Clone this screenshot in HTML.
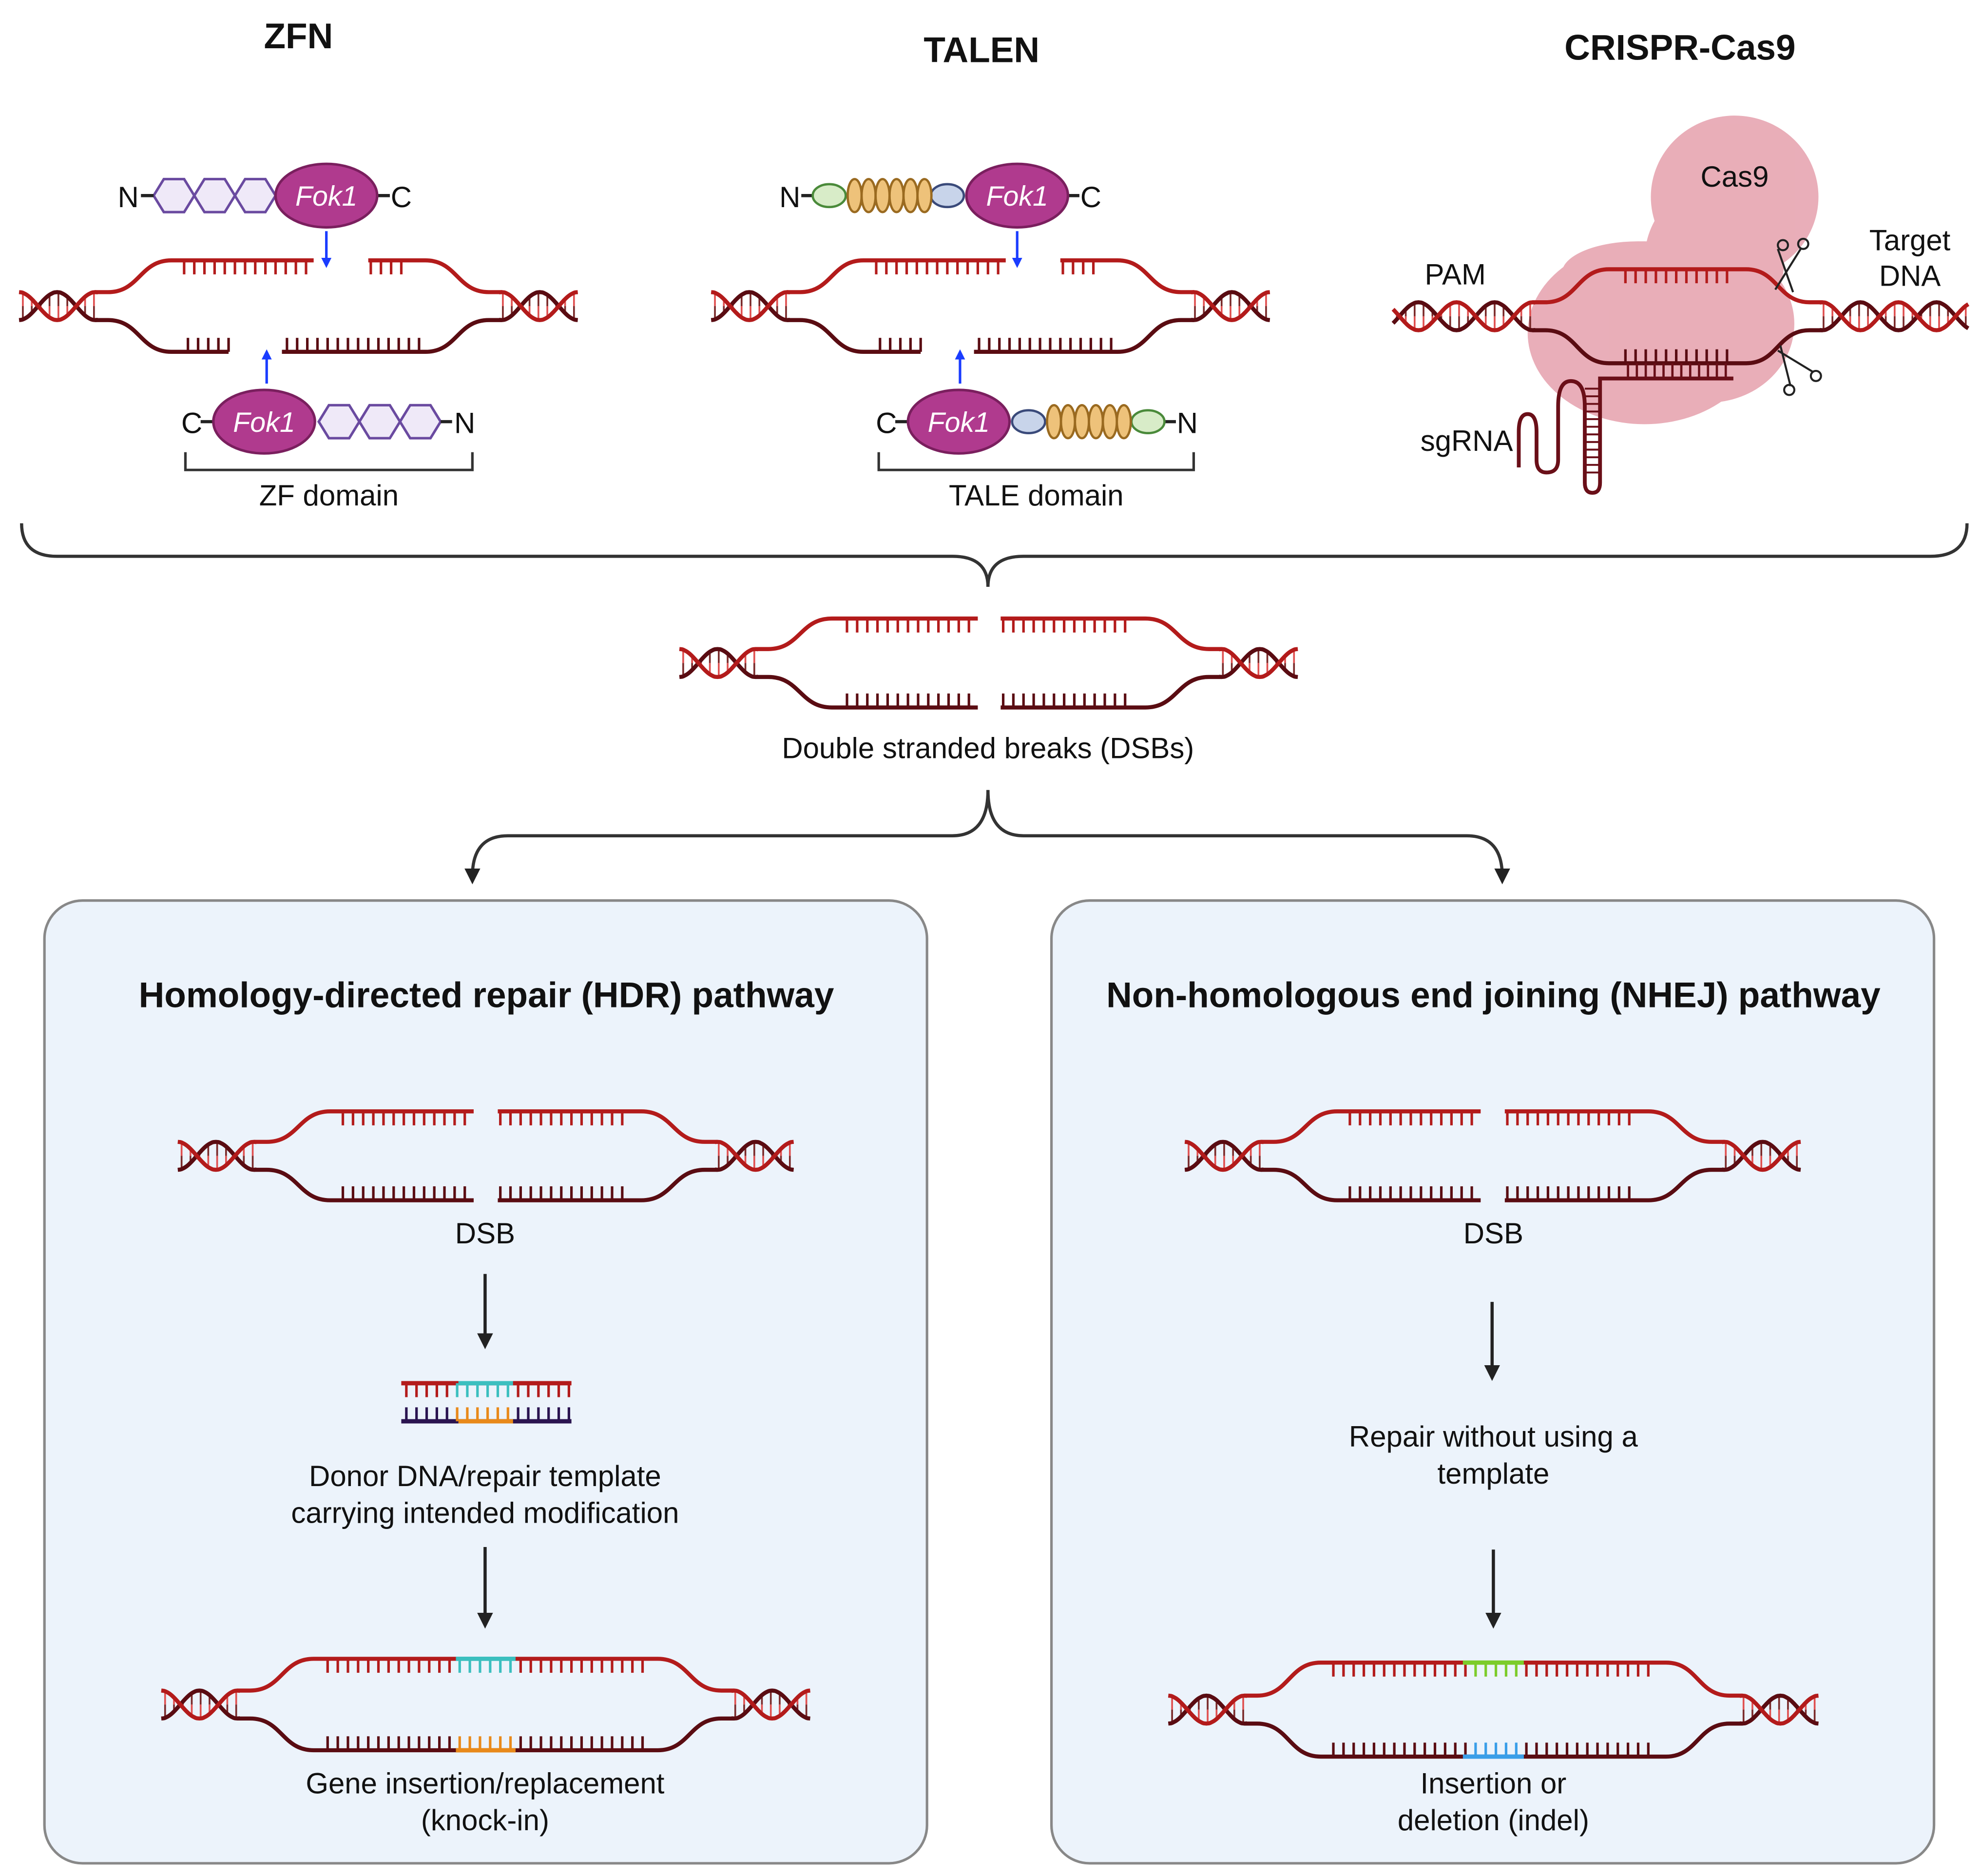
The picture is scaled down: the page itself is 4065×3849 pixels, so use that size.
<!DOCTYPE html>
<html><head><meta charset="utf-8">
<style>
html,body{margin:0;padding:0;background:#fff;}
svg{display:block;}
text{font-family:"Liberation Sans",sans-serif;fill:#111;}
.t{font-size:23px;text-anchor:middle;}
.b{font-size:28px;font-weight:bold;text-anchor:middle;}
.f{font-size:22px;font-style:italic;fill:#fff;text-anchor:middle;}
</style></head>
<body>
<svg id="s" width="4065" height="3849" viewBox="0 0 1560 1477" preserveAspectRatio="none" xmlns="http://www.w3.org/2000/svg">
<defs>
<marker id="ah" viewBox="0 0 10 10" refX="5" refY="5" markerWidth="5" markerHeight="5" orient="auto"><path d="M0,0 L10,5 L0,10 z" fill="#222"/></marker>
<marker id="bh" viewBox="0 0 10 10" refX="5" refY="5" markerWidth="4" markerHeight="4" orient="auto"><path d="M0,0 L10,5 L0,10 z" fill="#1a3cff"/></marker>
</defs>
<rect x="35" y="709" width="695" height="758" rx="30" fill="#ecf3fb" stroke="#888" stroke-width="2"/>
<rect x="828" y="709" width="695" height="758" rx="30" fill="#ecf3fb" stroke="#888" stroke-width="2"/>
<path d="M17,412 Q17,438 45,438 L750,438 Q778,438 778,462 Q778,438 806,438 L1520,438 Q1549,438 1549,412" fill="none" stroke="#333" stroke-width="2.5"/>
<path d="M778,622 Q778,658 750,658 L400,658 Q372,658 372,690" fill="none" stroke="#333" stroke-width="2.5" marker-end="url(#ah)"/>
<path d="M778,622 Q778,658 806,658 L1155,658 Q1183,658 1183,690" fill="none" stroke="#333" stroke-width="2.5" marker-end="url(#ah)"/>
<g stroke="#222" stroke-width="2.5" marker-end="url(#ah)">
<line x1="382" y1="1003" x2="382" y2="1056"/>
<line x1="382" y1="1218" x2="382" y2="1276"/>
<line x1="1175" y1="1025" x2="1175" y2="1081"/>
<line x1="1176" y1="1220" x2="1176" y2="1276"/>
</g>
<g fill="#e8aab5" opacity="0.95">
<ellipse cx="1366" cy="155" rx="66" ry="64"/>
<ellipse cx="1350" cy="205" rx="55" ry="60"/>
<ellipse cx="1295" cy="262" rx="92" ry="72"/>
<ellipse cx="1345" cy="255" rx="68" ry="62"/>
<ellipse cx="1290" cy="215" rx="60" ry="25"/>
</g>
<g id="dna"></g>
<g fill="none" stroke="#6a0f18" stroke-width="3">
<path d="M1365,298 H1260 V380 Q1260,388 1254,388 Q1248,388 1248,380 V320 Q1248,300 1237,300 Q1227,300 1227,320 V362 Q1227,372 1218,372 Q1210,372 1210,362 V340 Q1210,326 1203,326 Q1196,326 1196,340 V368"/>
</g>
<g id="stem" stroke="#6a0f18" stroke-width="1.5"></g>
<g fill="none" stroke="#222" stroke-width="1.6">
<line x1="1398" y1="228" x2="1418" y2="196"/><line x1="1400" y1="196" x2="1412" y2="230"/>
<circle cx="1420" cy="192" r="4"/><circle cx="1404" cy="193" r="4"/>
<line x1="1400" y1="276" x2="1428" y2="293"/><line x1="1402" y1="272" x2="1410" y2="304"/>
<circle cx="1430" cy="296" r="4"/><circle cx="1409" cy="307" r="4"/>
</g>
<g stroke="#6a4aa0" stroke-width="2" fill="#efe9f8">
<polygon points="121,154 129,141 145,141 153,154 145,167 129,167"/>
<polygon points="153,154 161,141 177,141 185,154 177,167 161,167"/>
<polygon points="185,154 193,141 209,141 217,154 209,167 193,167"/>
<polygon points="251,332 259,319 275,319 283,332 275,345 259,345"/>
<polygon points="283,332 291,319 307,319 315,332 307,345 291,345"/>
<polygon points="315,332 323,319 339,319 347,332 339,345 323,345"/>
</g>
<g stroke="#222" stroke-width="2.5">
<line x1="111" y1="154" x2="121" y2="154"/><line x1="297" y1="154" x2="307" y2="154"/>
<line x1="158" y1="332" x2="168" y2="332"/><line x1="347" y1="332" x2="356" y2="332"/>
<line x1="631" y1="154" x2="640" y2="154"/><line x1="841" y1="154" x2="850" y2="154"/>
<line x1="705" y1="332" x2="715" y2="332"/><line x1="917" y1="332" x2="926" y2="332"/>
</g>
<g fill="#b03a8e" stroke="#7a1f5e" stroke-width="2">
<ellipse cx="257" cy="154" rx="40" ry="25"/><ellipse cx="208" cy="332" rx="40" ry="25"/>
<ellipse cx="801" cy="154" rx="40" ry="25"/><ellipse cx="755" cy="332" rx="40" ry="25"/>
</g>
<g stroke-width="1.8">
<ellipse cx="653" cy="154" rx="13" ry="9" fill="#d8ecc8" stroke="#4a8a3a"/>
<ellipse cx="746" cy="154" rx="13" ry="9" fill="#c8d4ea" stroke="#3a4a7a"/>
<ellipse cx="810" cy="332" rx="13" ry="9" fill="#c8d4ea" stroke="#3a4a7a"/>
<ellipse cx="904" cy="332" rx="13" ry="9" fill="#d8ecc8" stroke="#4a8a3a"/>
<g fill="#eec27a" stroke="#9a6a20">
<ellipse cx="673" cy="154" rx="5.5" ry="13"/><ellipse cx="684" cy="154" rx="5.5" ry="13"/><ellipse cx="695" cy="154" rx="5.5" ry="13"/><ellipse cx="706" cy="154" rx="5.5" ry="13"/><ellipse cx="717" cy="154" rx="5.5" ry="13"/><ellipse cx="728" cy="154" rx="5.5" ry="13"/>
<ellipse cx="830" cy="332" rx="5.5" ry="13"/><ellipse cx="841" cy="332" rx="5.5" ry="13"/><ellipse cx="852" cy="332" rx="5.5" ry="13"/><ellipse cx="863" cy="332" rx="5.5" ry="13"/><ellipse cx="874" cy="332" rx="5.5" ry="13"/><ellipse cx="885" cy="332" rx="5.5" ry="13"/>
</g></g>
<g stroke="#1a3cff" stroke-width="2" marker-end="url(#bh)">
<line x1="257" y1="182" x2="257" y2="207"/><line x1="210" y1="302" x2="210" y2="279"/>
<line x1="801" y1="182" x2="801" y2="207"/><line x1="756" y1="302" x2="756" y2="279"/>
</g>
<path d="M146,356 V370 H372 V356" fill="none" stroke="#333" stroke-width="2"/>
<path d="M692,356 V370 H940 V356" fill="none" stroke="#333" stroke-width="2"/>
<text class="b" x="235" y="38">ZFN</text>
<text class="b" x="773" y="49">TALEN</text>
<text class="b" x="1323" y="47">CRISPR-Cas9</text>
<text class="t" x="101" y="163">N</text><text class="t" x="316" y="163">C</text>
<text class="t" x="151" y="341">C</text><text class="t" x="366" y="341">N</text>
<text class="t" x="622" y="163">N</text><text class="t" x="859" y="163">C</text>
<text class="t" x="698" y="341">C</text><text class="t" x="935" y="341">N</text>
<text class="f" x="257" y="162">Fok1</text><text class="f" x="208" y="340">Fok1</text>
<text class="f" x="801" y="162">Fok1</text><text class="f" x="755" y="340">Fok1</text>
<text class="t" x="259" y="398">ZF domain</text>
<text class="t" x="816" y="398">TALE domain</text>
<text class="t" x="1366" y="147">Cas9</text>
<text class="t" x="1146" y="224">PAM</text>
<text class="t" x="1504" y="197">Target</text><text class="t" x="1504" y="225">DNA</text>
<text class="t" x="1155" y="355">sgRNA</text>
<text class="t" x="778" y="597">Double stranded breaks (DSBs)</text>
<text class="b" x="383" y="793">Homology-directed repair (HDR) pathway</text>
<text class="b" x="1176" y="793">Non-homologous end joining (NHEJ) pathway</text>
<text class="t" x="382" y="979">DSB</text><text class="t" x="1176" y="979">DSB</text>
<text class="t" x="382" y="1170">Donor DNA/repair template</text>
<text class="t" x="382" y="1199">carrying intended modification</text>
<text class="t" x="1176" y="1139">Repair without using a</text>
<text class="t" x="1176" y="1168">template</text>
<text class="t" x="382" y="1412">Gene insertion/replacement</text>
<text class="t" x="382" y="1441">(knock-in)</text>
<text class="t" x="1176" y="1412">Insertion or</text>
<text class="t" x="1176" y="1441">deletion (indel)</text>
</svg>
<script>
var NS="http://www.w3.org/2000/svg",G=document.getElementById("dna");
var R="#b31b1b",D="#5a0c12";
function el(t,a,p){var e=document.createElementNS(NS,t);for(var k in a)e.setAttribute(k,a[k]);(p||G).appendChild(e);return e;}
function helix(xa,xb,cy,anchor){var amp=11,per=60,p1="",p2="";
 for(var x=xa;x<=xb;x+=1){var ph=(x-anchor)/per*2*Math.PI;var y1=cy-amp*Math.cos(ph),y2=cy+amp*Math.cos(ph);p1+=(x==xa?"M":"L")+x+","+y1.toFixed(1);p2+=(x==xa?"M":"L")+x+","+y2.toFixed(1);}
 for(var x=xa+3;x<xb;x+=7){var ph=(x-anchor)/per*2*Math.PI;var y1=cy-amp*Math.cos(ph),y2=cy+amp*Math.cos(ph);el("line",{x1:x,x2:x,y1:y1,y2:(y1+y2)/2,stroke:"#e05050","stroke-width":1.4});el("line",{x1:x,x2:x,y1:(y1+y2)/2,y2:y2,stroke:"#7a2a2a","stroke-width":1.4});}
 el("path",{d:p2,fill:"none",stroke:D,"stroke-width":3.2});el("path",{d:p1,fill:"none",stroke:R,"stroke-width":3.2});}
function strand(xl,xr,y0,y1,gap,col){var d;
 if(gap){d="M"+xl+","+y0+" H"+(xl+10)+" C"+(xl+35)+","+y0+" "+(xl+35)+","+y1+" "+(xl+60)+","+y1+" H"+gap[0]+" M"+gap[1]+","+y1+" H"+(xr-60)+" C"+(xr-35)+","+y1+" "+(xr-35)+","+y0+" "+(xr-10)+","+y0+" H"+xr;}
 else d="M"+xl+","+y0+" H"+(xl+10)+" C"+(xl+35)+","+y0+" "+(xl+35)+","+y1+" "+(xl+60)+","+y1+" H"+(xr-60)+" C"+(xr-35)+","+y1+" "+(xr-35)+","+y0+" "+(xr-10)+","+y0+" H"+xr;
 el("path",{d:d,fill:"none",stroke:col,"stroke-width":3.2});}
function teeth(a,b,y,dir,col,ov){for(var x=a;x<=b;x+=8){var c=col;if(ov&&x>=ov[0]&&x<=ov[1])c=ov[2];el("line",{x1:x,x2:x,y1:y,y2:y+dir*11,stroke:c,"stroke-width":2});}}
function bubble(o){var hl=o.hl||60,hr=o.hr||60,xl=o.x0+hl,xr=o.x1-hr,h=o.h;
 helix(o.x0,xl+2,o.cy,xl);helix(xr-2,o.x1,o.cy,xr);
 strand(xl,xr,o.cy-11,o.cy-h,o.tg,R);strand(xl,xr,o.cy+11,o.cy+h,o.bg,D);
 o.tt.forEach(function(s){teeth(s[0],s[1],o.cy-h,1,R,o.tc);});
 o.bt.forEach(function(s){teeth(s[0],s[1],o.cy+h,-1,D,o.bc);});
 if(o.tc)el("line",{x1:o.tc[0]-3,x2:o.tc[1]+3,y1:o.cy-h,y2:o.cy-h,stroke:o.tc[2],"stroke-width":3.4});
 if(o.bc)el("line",{x1:o.bc[0]-3,x2:o.bc[1]+3,y1:o.cy+h,y2:o.cy+h,stroke:o.bc[2],"stroke-width":3.4});}
bubble({x0:15,x1:455,cy:241,h:36,tg:[247,290],bg:[180,222],tt:[[145,245],[292,323]],bt:[[148,180],[226,336]]});
bubble({x0:560,x1:1000,cy:241,h:36,tg:[792,835],bg:[725,767],tt:[[690,790],[837,868]],bt:[[693,725],[771,881]]});
bubble({x0:535,x1:1022,cy:522,h:35,tg:[770,788],bg:[770,788],tt:[[667,768],[790,890]],bt:[[667,768],[790,890]]});
bubble({x0:140,x1:625,cy:910,h:35,tg:[373,392],bg:[373,392],tt:[[270,371],[394,492]],bt:[[270,371],[394,492]]});
bubble({x0:933,x1:1418,cy:910,h:35,tg:[1166,1185],bg:[1166,1185],tt:[[1063,1164],[1187,1288]],bt:[[1063,1164],[1187,1288]]});
bubble({x0:127,x1:638,cy:1342,h:36,tt:[[258,508]],bt:[[258,508]],tc:[362,403,"#3bbfbf"],bc:[362,403,"#e8891a"]});
bubble({x0:920,x1:1432,cy:1346,h:37,tt:[[1050,1300]],bt:[[1050,1300]],tc:[1155,1197,"#7ccc2a"],bc:[1155,1197,"#3a9ee8"]});
bubble({x0:1097,x1:1550,cy:249,h:37,hl:110,hr:115,tt:[[1280,1365]],bt:[[1280,1365]]});
el("line",{x1:316,x2:450,y1:1089,y2:1089,stroke:R,"stroke-width":3.4});
el("line",{x1:361,x2:404,y1:1089,y2:1089,stroke:"#3bbfbf","stroke-width":3.4});
el("line",{x1:316,x2:450,y1:1119,y2:1119,stroke:"#2a1450","stroke-width":3.4});
el("line",{x1:361,x2:404,y1:1119,y2:1119,stroke:"#e8891a","stroke-width":3.4});
teeth(320,448,1089,1,R,[360,404,"#3bbfbf"]);teeth(320,448,1119,-1,"#2a1450",[360,404,"#e8891a"]);
var S=document.getElementById("stem");for(var y=306;y<378;y+=6)el("line",{x1:1248,x2:1260,y1:y,y2:y},S);
for(var x=1282;x<=1362;x+=7)el("line",{x1:x,x2:x,y1:286,y2:298,stroke:"#6a0f18","stroke-width":1.8});
</script>
</body></html>
